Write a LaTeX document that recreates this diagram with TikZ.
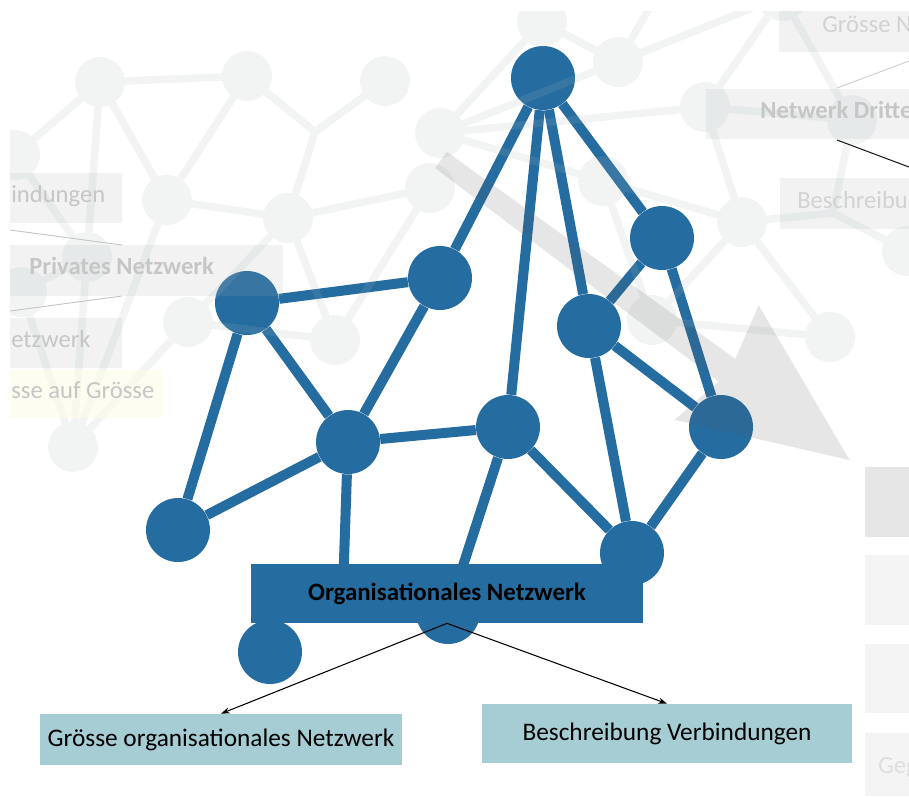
\documentclass[tikz,border=0pt]{standalone}
\usepackage{fontspec}
\setmainfont{Carlito}
\usetikzlibrary{arrows.meta}
\definecolor{netblue}{RGB}{37,108,161}
\definecolor{tealbox}{RGB}{166,205,211}
\definecolor{bgnet}{RGB}{170,185,185}
\definecolor{bgarrow}{RGB}{88,88,88}
\definecolor{bgboxc}{RGB}{168,172,172}
\definecolor{bgyellow}{RGB}{254,252,232}
\definecolor{bgtext}{RGB}{198,198,198}
\definecolor{bgtextl}{RGB}{210,210,210}
\definecolor{bgtextx}{RGB}{222,222,222}
\definecolor{sidedark}{RGB}{230,230,230}
\definecolor{sidelight}{RGB}{244,244,244}
\begin{document}
\begin{tikzpicture}[x=0.02cm,y=-0.02cm,
  bnode/.style={circle,fill=netblue,inner sep=0pt,minimum size=1.28cm},
  bedge/.style={draw=netblue,line width=0.2cm},
  gnode/.style={circle,fill=bgnet,inner sep=0pt,minimum size=1cm},
  gedge/.style={draw=bgnet,line width=0.15cm,line cap=round},
  gbox/.style={fill=bgboxc,fill opacity=0.15},
  gtext/.style={anchor=base west,inner sep=0pt,text=bgtext,font=\fontsize{14}{16}\selectfont},
  tbox/.style={fill=tealbox,inner sep=0pt,font=\fontsize{14.4}{16}\selectfont},
  ptr/.style={-{Stealth[length=5pt,width=3.5pt]},line width=0.6pt,black}]
\useasboundingbox (0,0) rectangle (909,796);
\fill[white] (0,0) rectangle (909,796);

% ---- blue network ----
\node[bnode] (T) at (543,78) {};
\node[bnode] (A) at (247,303) {};
\node[bnode] (B) at (440,278) {};
\node[bnode] (C) at (348,442) {};
\node[bnode] (D) at (178,530) {};
\node[bnode] (E) at (508,427) {};
\node[bnode] (F) at (589,326) {};
\node[bnode] (G) at (662,238) {};
\node[bnode] (H) at (721,427) {};
\node[bnode] (I) at (632,553) {};
\node[bnode] (J) at (270,652) {};
\node[bnode] (K) at (448,612) {};
\coordinate (cx) at (343,590);
\foreach \a/\b in {T/B,T/E,T/F,T/G,A/B,A/C,A/D,B/C,C/D,C/E,C/cx,E/K,E/I,F/G,F/H,F/I,G/H,H/I}
  \draw[bedge] (\a) -- (\b);

% ---- faded background layer ----
\begin{scope}
\clip (10,11) rectangle (909,796);
\begin{scope}[transparency group,opacity=0.15]
\node[gnode] (b1) at (100,82) {};
\node[gnode] (b2) at (247,76) {};
\node[gnode] (b3) at (385,81) {};
\node[gnode] (b4) at (15,155) {};
\node[gnode] (b5) at (167,200) {};
\node[gnode] (b6) at (288,218) {};
\node[gnode] (b7) at (430,188) {};
\node[gnode] (b8) at (440,133) {};
\node[gnode] (b9) at (87,257) {};
\node[gnode] (b10) at (22,292) {};
\node[gnode] (b11) at (188,322) {};
\node[gnode] (b12) at (335,340) {};
\node[gnode] (b13) at (73,447) {};
\node[gnode] (b14) at (542,22) {};
\node[gnode] (b15) at (618,62) {};
\node[gnode] (b16) at (705,107) {};
\node[gnode] (b17) at (603,181) {};
\node[gnode] (b18) at (742,222) {};
\node[gnode] (b19) at (852,120) {};
\node[gnode] (b20) at (782,-4) {};
\node[gnode] (b21) at (652,320) {};
\node[gnode] (b22) at (830,337) {};
\node[gnode] (b23) at (907,251) {};
\coordinate (j1) at (315,132);
\coordinate (j2) at (833,213);
\coordinate (o1) at (660,-10);
\foreach \a/\b in {b1/b2,b1/b4,b1/b9,b1/b5,b2/b5,b2/j1,j1/b3,j1/b6,b5/b6,b5/b13,
  b4/b9,b9/b13,b9/b10,b10/b13,b11/b13,b11/b6,b11/b12,b6/b12,b6/b7,b7/b12,
  b8/b14,b8/b15,b8/b16,b8/b17,b14/b15,b15/b20,b15/o1,b16/b20,b20/b19,b16/b19,
  b16/b18,b17/b18,b17/b21,b18/j2,j2/b19,j2/b23,b18/b21,b18/b22,b21/b22}
  \draw[gedge] (\a) -- (\b);
\end{scope}
% big grey arrow
\fill[bgarrow,opacity=0.15] (446.9,151.9) -- (735.4,358.9) -- (758.7,305.3) -- (849.6,460.1)
  -- (674.7,419.7) -- (718.8,381.5) -- (435.1,168.1) -- cycle;
% faded boxes
\fill[gbox] (10,173) rectangle (122,223);
\fill[gbox] (10,245) rectangle (283,296);
\fill[gbox] (10,318) rectangle (122,368);
\fill[bgyellow,fill opacity=0.6] (10,370) rectangle (163,418);
\fill[gbox] (779,11) rectangle (909,52);
\fill[gbox] (706,89) rectangle (909,139);
\fill[gbox] (780,178) rectangle (909,229);
\fill[sidedark] (865,467) rectangle (909,537);
\fill[sidelight] (865,555) rectangle (909,625);
\fill[sidelight] (865,644) rectangle (909,713);
\fill[sidelight] (865,733) rectangle (909,796);
\draw[color={rgb,255:red,196;green,196;blue,196},line width=0.5pt] (10,230) -- (122,245);
\draw[color={rgb,255:red,196;green,196;blue,196},line width=0.5pt] (10,311) -- (122,296);
\draw[color={rgb,255:red,204;green,204;blue,204},line width=0.5pt] (837,88) -- (909,61);
\draw[color={rgb,255:red,30;green,30;blue,30},line width=0.6pt] (837,140) -- (909,167);
\node[gtext] (t1) at (11,202) {indungen};
\node[gtext,font=\fontsize{14}{16}\selectfont\bfseries] (t2) at (29,274) {Privates Netzwerk};
\node[gtext] (t3) at (11,347) {etzwerk};
\node[gtext] (t4) at (11,398) {sse auf Grösse};
\node[gtext,text=bgtextl] (t5) at (822,32) {Grösse N};
\node[gtext,font=\fontsize{14}{16}\selectfont\bfseries] (t6) at (760,118) {Netwerk Dritte};
\node[gtext,text=bgtextl] (t7) at (797,208) {Beschreibu};
\node[gtext,text=bgtextx] (t8) at (878,773) {Geg};
\end{scope}

% ---- foreground labels ----
\node[fill=netblue,inner sep=0pt,minimum width=7.84cm,minimum height=1.18cm,
  font=\fontsize{14.2}{16}\selectfont\bfseries] (lab) at (447,593.5) {Organisationales Netzwerk};
\node[tbox,minimum width=7.24cm,minimum height=1.02cm] (g) at (221,739.5) {Grösse organisationales Netzwerk};
\node[tbox,minimum width=7.4cm,minimum height=1.18cm] (v) at (667,733.5) {Beschreibung Verbindungen};
\draw[ptr] (lab.south) -- (g.north);
\draw[ptr] (lab.south) -- (v.north);
\end{tikzpicture}
\end{document}
